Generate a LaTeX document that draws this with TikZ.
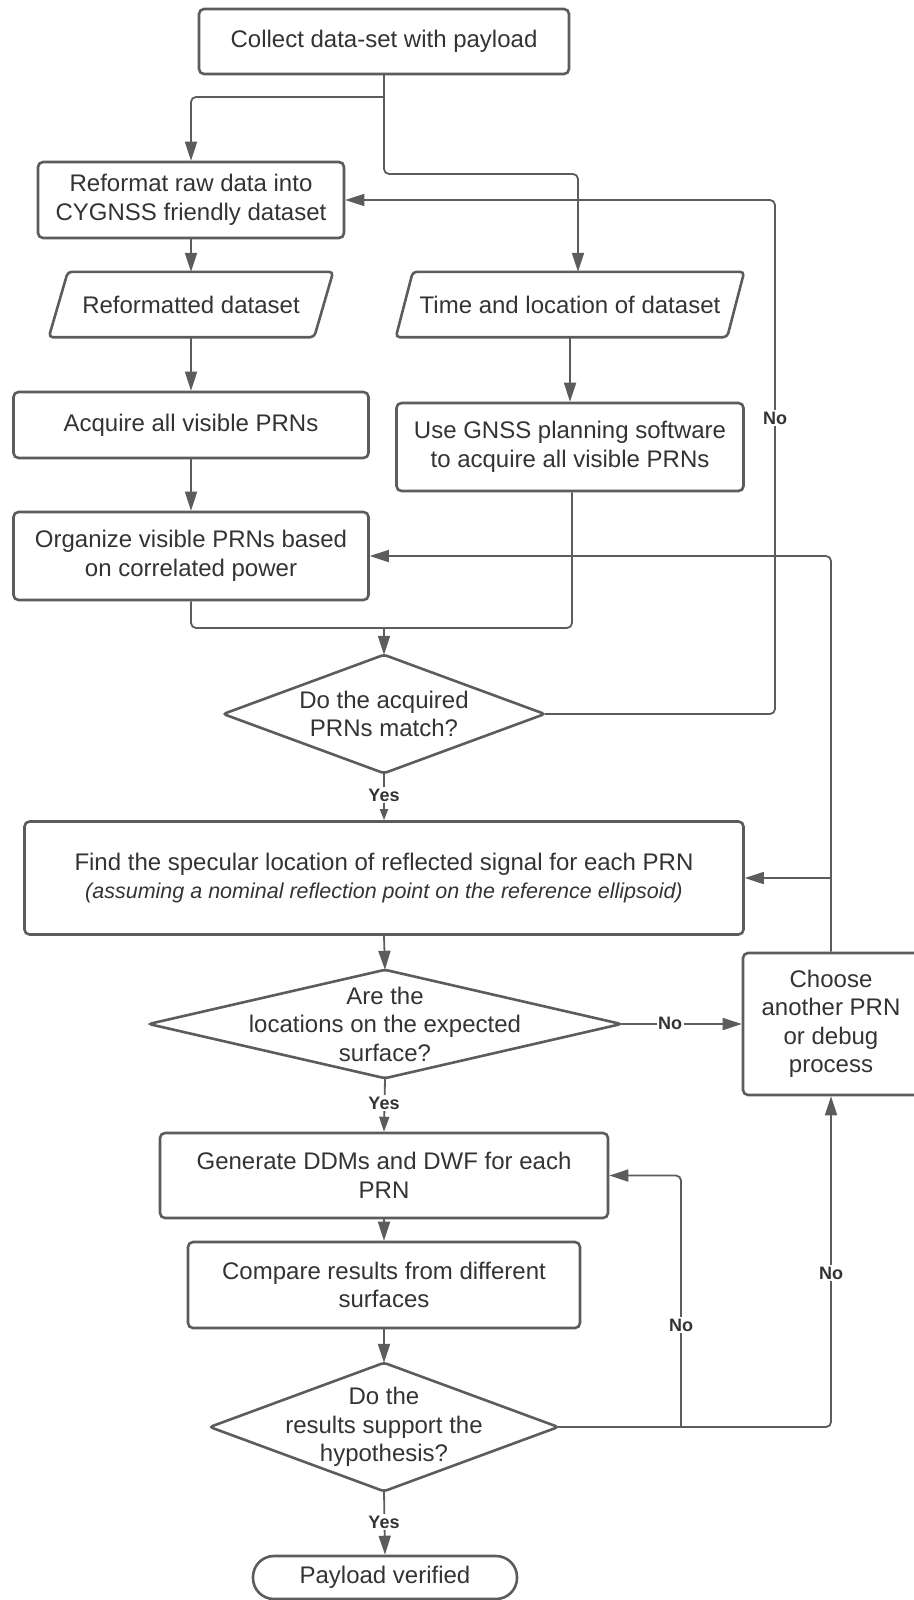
\documentclass[tikz,border=0pt]{standalone}
\usepackage{fontspec}
\setmainfont{Liberation Sans}
\usetikzlibrary{arrows.meta}
\definecolor{edge}{HTML}{5C5C5C}
\definecolor{ink}{HTML}{333333}

\begin{document}
\begin{tikzpicture}[x=1pt,y=-1pt,
  txt/.style={text=ink, align=center, inner sep=0pt, font=\fontsize{24}{28.5}\selectfont},
  box/.style={txt, draw=edge, line width=2.6pt, rounded corners=5pt},
  ghost/.style={txt},
  outline/.style={draw=edge, line width=2.6pt, rounded corners=4pt},
  link/.style={draw=edge, line width=1.8pt, rounded corners=5pt},
  conn/.style={link, -{Triangle[length=19pt,width=12pt]}},
  shortconn/.style={link, -{Triangle[length=11pt,width=8pt]}},
  midconn/.style={link, -{Triangle[length=15pt,width=10pt]}},
  lbl/.style={fill=white, text=ink, inner sep=1.5pt, font=\fontsize{18}{20}\selectfont\bfseries}
]
\useasboundingbox (0,0) rectangle (913,1600);

% ---- process boxes ----
\node[box, minimum width=370, minimum height=65] (collect) at (384,41.5) {Collect data-set with payload};
\node[box, minimum width=306, minimum height=76] (reformat) at (191,200) {Reformat raw data into\\CYGNSS friendly dataset};

% ---- data (parallelogram) shapes ----
\node[ghost, minimum width=265, minimum height=65] (refds) at (191,304.5) {Reformatted dataset};
\draw[outline] ([xshift=9.5pt]refds.north west) -- ([xshift=9.5pt]refds.north east)
  -- ([xshift=-9.5pt]refds.south east) -- ([xshift=-9.5pt]refds.south west) -- cycle;
\node[ghost, minimum width=331, minimum height=65] (timeloc) at (570,304.5) {Time and location of dataset};
\draw[outline] ([xshift=8.5pt]timeloc.north west) -- ([xshift=8.5pt]timeloc.north east)
  -- ([xshift=-8.5pt]timeloc.south east) -- ([xshift=-8.5pt]timeloc.south west) -- cycle;

\node[box, minimum width=355, minimum height=66] (acquire) at (191,425) {Acquire all visible PRNs};
\node[box, minimum width=347, minimum height=88] (gnss) at (570,447) {Use GNSS planning software\\to acquire all visible PRNs};
\node[box, minimum width=355, minimum height=88] (organize) at (191,556) {Organize visible PRNs based\\on correlated power};

% ---- decision 1 ----
\node[ghost, minimum width=321, minimum height=118] (match) at (384,714) {Do the acquired\\PRNs match?};
\draw[outline, rounded corners=3pt] (match.north) -- (match.east) -- (match.south) -- (match.west) -- cycle;

\node[box, minimum width=719, minimum height=113] (find) at (384,878)
  {Find the specular location of reflected signal for each PRN\\
   {\fontsize{21.5}{28}\selectfont\itshape (assuming a nominal reflection point on the reference ellipsoid)}};

% ---- decision 2 ----
\node[ghost, minimum width=472, minimum height=108] (surf) at (385,1024) {Are the\\locations on the expected\\surface?};
\draw[outline, rounded corners=3pt] (surf.north) -- (surf.east) -- (surf.south) -- (surf.west) -- cycle;

\node[box, minimum width=176, minimum height=142] (choose) at (831,1024) {Choose\\another PRN\\or debug\\process};

\node[box, minimum width=448, minimum height=85] (generate) at (384,1175.5) {Generate DDMs and DWF for each\\PRN};
\node[box, minimum width=392, minimum height=86] (compare) at (384,1285) {Compare results from different\\surfaces};

% ---- decision 3 ----
\node[ghost, minimum width=348, minimum height=128] (hyp) at (384,1427) {Do the\\results support the\\hypothesis?};
\draw[outline, rounded corners=3pt] (hyp.north) -- (hyp.east) -- (hyp.south) -- (hyp.west) -- cycle;

\node[box, rounded corners=21pt, minimum width=264, minimum height=43] (payload) at (385,1577.5) {Payload verified};

% ---- connectors ----
\coordinate (split) at (384,97);
\coordinate (split2) at (384,174);
\draw[link] (collect.south) -- (split);
\draw[conn] (split) -| (reformat.north);
\draw[conn] (split) -- (split2) -| ([xshift=8pt]timeloc.north);

\draw[conn] (reformat.south) -- (refds.north);
\draw[conn] (refds.south) -- (acquire.north);
\draw[conn] (acquire.south) -- (organize.north);
\draw[conn] (timeloc.south) -- (gnss.north);

\coordinate (merge) at (384,628);
\draw[link] (organize.south) |- (merge);
\draw[link] ([xshift=2pt]gnss.south) |- (merge);
\draw[conn] (merge) -- (match.north);

\coordinate (loopA) at (775,200);
\draw[conn] (match.east) -| (loopA) -- (reformat.east);

\draw[shortconn] (match.south) -- (find.north);
\draw[conn] (find.south) -- (surf.north);
\draw[conn] (surf.east) -- (choose.west);
\draw[midconn] (surf.south) -- (generate.north);
\draw[conn] (generate.south) -- (compare.north);
\draw[conn] (compare.south) -- (hyp.north);
\draw[conn] (hyp.south) -- (payload.north);

\coordinate (retGen) at (681,1427);
\coordinate (retChoose) at (831,1427);
\draw[conn] (hyp.east) -- (retChoose) -- (choose.south);
\draw[conn] (retGen) |- (generate.east);

\coordinate (retFind) at (831,878);
\draw[conn] (choose.north) |- (organize.east);
\draw[conn] (retFind) -- (find.east);

% ---- branch labels ----
\node[lbl] (no1) at (775,418) {No};
\node[lbl] (yes1) at (384,795) {Yes};
\node[lbl] (no2) at (670,1023.5) {No};
\node[lbl] (yes2) at (384,1103) {Yes};
\node[lbl] (no3) at (681,1325) {No};
\node[lbl] (no4) at (831,1273) {No};
\node[lbl] (yes3) at (384,1522) {Yes};
\end{tikzpicture}
\end{document}
